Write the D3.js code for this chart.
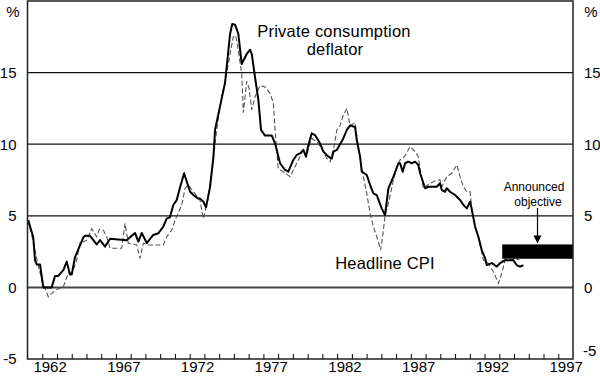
<!DOCTYPE html>
<html>
<head>
<meta charset="utf-8">
<script src="https://cdn.jsdelivr.net/npm/d3@7"></script>
<style>
body { margin: 0; background: #fff; }
svg { display: block; font-family: "Liberation Sans", Arial, sans-serif; }
.axis path, .axis line { stroke: none; }
.axis text { font-size: 15px; fill: #000; }
</style>
</head>
<body>
<div class="chart"></div>
<script>
// Private consumption deflator (solid), year-ended % change
var pcdYears = [1961.05,1961.39,1961.51,1961.62,1961.85,1962.07,1962.64,1962.87,1963.09,1963.43,1963.66,1963.88,1964.00,1964.22,1964.79,1964.90,1965.24,1965.69,1965.92,1966.26,1966.60,1967.73,1968.29,1968.52,1968.75,1969.09,1969.53,1969.87,1970.21,1970.44,1970.66,1970.89,1971.12,1971.35,1971.62,1972.02,1972.25,1972.59,1972.70,1972.93,1973.11,1973.38,1973.61,1973.72,1974.40,1974.74,1974.89,1975.08,1975.30,1975.53,1975.87,1976.10,1976.21,1976.43,1976.66,1976.84,1977.11,1977.57,1977.79,1978.13,1978.47,1978.69,1979.03,1979.26,1979.49,1979.71,1979.89,1980.05,1980.28,1980.50,1980.84,1981.07,1981.41,1981.64,1981.75,1981.98,1982.42,1982.66,1982.88,1983.22,1983.33,1983.56,1983.67,1984.01,1984.24,1984.46,1984.69,1985.03,1985.25,1985.48,1985.82,1986.16,1986.27,1986.45,1986.61,1986.83,1987.06,1987.29,1987.51,1987.63,1987.97,1988.19,1988.76,1988.98,1989.10,1989.32,1989.44,1989.66,1990.00,1990.34,1990.57,1990.80,1991.02,1991.14,1991.36,1991.58,1991.81,1992.04,1992.15,1992.49,1992.83,1993.06,1993.39,1993.96,1994.18,1994.41,1994.64];
var pcdValues = [4.7,3.5,1.9,1.6,1.6,0.0,0.0,0.8,0.8,1.2,1.8,0.9,0.9,2.1,3.5,3.6,3.6,3.0,3.3,2.85,3.4,3.3,3.8,3.2,3.8,3.1,3.66,3.78,4.24,4.8,4.9,5.75,6.1,7.0,7.97,6.7,6.45,6.2,6.2,5.98,5.6,7.0,9.1,11.0,14.3,17.7,18.4,18.35,17.7,15.6,16.3,16.6,16.3,14.7,13.1,11.0,10.6,10.6,10.06,8.67,8.2,8.08,8.9,9.25,9.36,9.6,9.13,9.94,10.76,10.64,10.06,9.48,9.13,9.0,9.48,9.6,10.4,11.0,11.3,11.2,10.3,9.13,8.08,7.85,7.15,6.57,6.45,5.5,5.06,6.92,7.73,8.67,8.67,8.08,8.67,8.78,8.67,8.78,8.55,7.97,6.92,7.03,7.03,7.27,6.8,6.68,6.92,6.68,6.45,6.1,5.75,5.52,5.98,5.4,4.24,3.54,2.61,2.03,1.56,1.7,1.45,1.7,1.9,1.9,1.56,1.45,1.56];

// Headline CPI (dashed), year-ended % change
var cpiYears = [1961.03,1961.37,1961.71,1961.98,1962.41,1962.87,1963.43,1963.77,1964.02,1964.34,1964.56,1965.02,1965.36,1965.69,1965.87,1966.14,1966.37,1966.60,1967.39,1967.61,1967.84,1968.41,1968.63,1968.86,1969.20,1970.21,1970.44,1970.78,1971.01,1971.46,1971.69,1971.91,1972.25,1972.70,1972.82,1972.93,1973.27,1973.50,1973.72,1973.92,1974.20,1974.40,1974.74,1974.96,1975.12,1975.30,1975.53,1975.64,1975.87,1976.03,1976.21,1976.43,1976.77,1977.11,1977.45,1977.68,1977.79,1978.01,1978.35,1978.81,1979.26,1979.71,1979.89,1980.28,1980.62,1980.96,1981.30,1981.53,1981.75,1981.98,1982.20,1982.41,1982.66,1982.88,1983.22,1983.33,1983.56,1984.01,1984.24,1984.46,1984.69,1984.96,1985.14,1985.25,1985.48,1985.82,1986.05,1986.27,1986.61,1986.95,1987.29,1987.51,1987.63,1987.85,1988.31,1988.76,1988.98,1989.10,1989.44,1989.78,1990.12,1990.34,1990.57,1990.80,1991.02,1991.14,1991.36,1991.58,1991.92,1992.24,1992.60,1992.94,1993.17,1993.39,1993.73,1994.07,1994.41];
var cpiValues = [4.7,3.3,1.6,0.5,-0.65,-0.2,0.05,1.0,1.0,1.9,3.1,3.3,4.1,3.54,4.05,4.0,3.54,2.73,2.73,4.48,3.08,2.96,2.03,3.08,2.96,2.96,3.54,4.0,4.7,5.75,6.92,7.15,6.68,6.1,5.4,4.8,6.3,8.2,10.0,11.7,13.5,14.3,16.3,17.5,17.6,16.5,14.95,12.2,14.4,13.9,12.4,13.3,14.1,14.0,13.55,12.86,11.0,8.3,8.08,7.73,8.67,9.6,9.13,10.4,10.17,9.7,9.0,8.78,9.6,11.0,11.3,12.0,12.5,11.3,11.5,10.64,8.9,6.57,5.17,4.24,3.54,2.6,4.0,5.0,5.87,7.5,8.43,8.9,9.2,9.83,9.48,9.13,8.3,6.92,7.27,7.5,7.5,7.03,7.73,7.97,8.55,7.73,7.03,6.68,6.68,5.4,4.24,3.54,1.9,1.7,1.1,0.29,0.98,1.9,2.0,1.9,2.0];

// announced objective band
var targetYears = [1993.2, 1998];
var targetRange = [2, 3];

var yTicks = [-5, 0, 5, 10, 15];
var gridTicks = [0, 5, 10, 15];
var yearLabels = [1962, 1967, 1972, 1977, 1982, 1987, 1992, 1997];
var yearTicks = d3.range(1962, 1998);

var width = 600, height = 376;
var plotLeft = 27.5, plotRight = 573, plotTop = 1, plotBottom = 359;

var x = d3.scaleLinear().domain([1961, 1998]).range([plotLeft, plotRight]);
var y = d3.scaleLinear().domain([-5, 20]).range([plotBottom, plotTop]);

// plain hyphen for negatives, like the original
var fmt = function(d){ return String(d); };

var svg = d3.select(".chart").append("svg")
    .attr("width", width).attr("height", height);

// horizontal grid
svg.append("g").selectAll("line")
    .data(gridTicks)
    .enter().append("line")
    .attr("x1", plotLeft).attr("x2", plotRight)
    .attr("y1", function(d){ return y(d); })
    .attr("y2", function(d){ return y(d); })
    .attr("stroke", function(d){ return d === 0 ? "#444" : "#111"; })
    .attr("stroke-width", function(d){ return d === 0 ? 2 : 1.2; });

// target band
svg.append("rect")
    .attr("x", x(targetYears[0]))
    .attr("y", y(targetRange[1]))
    .attr("width", x(targetYears[1]) - x(targetYears[0]))
    .attr("height", y(targetRange[0]) - y(targetRange[1]))
    .attr("fill", "#000");

function line(xs, vs){
    return d3.line()
        .x(function(d, i){ return x(xs[i]); })
        .y(function(d){ return y(d); })(vs);
}

svg.append("path")
    .attr("d", line(cpiYears, cpiValues))
    .attr("fill", "none")
    .attr("stroke", "#555")
    .attr("stroke-width", 1.1)
    .attr("stroke-dasharray", "5,2.5");

svg.append("path")
    .attr("d", line(pcdYears, pcdValues))
    .attr("fill", "none")
    .attr("stroke", "#000")
    .attr("stroke-width", 2)
    .attr("stroke-linejoin", "round");

// frame
svg.append("rect")
    .attr("x", plotLeft).attr("y", plotTop)
    .attr("width", plotRight - plotLeft).attr("height", plotBottom - plotTop)
    .attr("fill", "none")
    .attr("stroke", "#222")
    .attr("stroke-width", 1.5);

// year ticks (inside, pointing up)
var tickAxis = d3.axisBottom(x).tickValues(yearTicks).tickSize(-5).tickFormat("");
svg.append("g")
    .attr("transform", "translate(0," + plotBottom + ")")
    .call(tickAxis)
    .call(function(g){ g.select(".domain").remove(); })
    .selectAll("line").attr("stroke", "#000").attr("stroke-width", 1);

// year labels centred in the year
var labelAxis = d3.axisBottom(x)
    .tickValues(yearLabels.map(function(d){ return d + 0.5; }))
    .tickSize(0).tickPadding(2)
    .tickFormat(function(d){ return Math.floor(d); });
svg.append("g")
    .attr("class", "axis")
    .attr("transform", "translate(0," + plotBottom + ")")
    .call(labelAxis);

// y labels
var yLeft = d3.axisLeft(y).tickValues(yTicks).tickSize(0).tickPadding(11).tickFormat(fmt);
svg.append("g")
    .attr("class", "axis")
    .attr("transform", "translate(" + plotLeft + ",0)")
    .call(yLeft);

var yRight = d3.axisRight(y).tickValues(yTicks).tickSize(0).tickPadding(11).tickFormat(fmt);
var gr = svg.append("g")
    .attr("class", "axis")
    .attr("transform", "translate(" + plotRight + ",0)")
    .call(yRight);
gr.selectAll(".tick").filter(function(d){ return d === -5; })
    .select("text").attr("dy", "-0.25em").attr("x", 10);

svg.selectAll(".axis text").style("font-size", "15px").style("fill", "#000");

svg.append("text").attr("x", 13).attr("y", 17).attr("text-anchor", "middle")
    .attr("font-size", 15).text("%");
svg.append("text").attr("x", 591).attr("y", 17).attr("text-anchor", "middle")
    .attr("font-size", 15).text("%");

// series labels
svg.append("text").attr("x", 334).attr("y", 37).attr("text-anchor", "middle")
    .attr("font-size", 16.5).attr("letter-spacing", 0.2).text("Private consumption");
svg.append("text").attr("x", 335).attr("y", 55).attr("text-anchor", "middle")
    .attr("font-size", 16.5).attr("letter-spacing", 0.2).text("deflator");
svg.append("text").attr("x", 385).attr("y", 269).attr("text-anchor", "middle")
    .attr("font-size", 16.5).attr("letter-spacing", 0.2).text("Headline CPI");

svg.append("text").attr("x", 534).attr("y", 191).attr("text-anchor", "middle")
    .attr("font-size", 12).text("Announced");
svg.append("text").attr("x", 538).attr("y", 206).attr("text-anchor", "middle")
    .attr("font-size", 12).text("objective");

// arrow to the band
var ax = 537.5, ay0 = 208, ay1 = y(targetRange[1]) - 1;
svg.append("line").attr("x1", ax).attr("x2", ax).attr("y1", ay0).attr("y2", ay1 - 7)
    .attr("stroke", "#000").attr("stroke-width", 1.2);
svg.append("path")
    .attr("d", "M" + (ax - 4) + "," + (ay1 - 8) + "L" + (ax + 4) + "," + (ay1 - 8) + "L" + ax + "," + ay1 + "Z")
    .attr("fill", "#000");
</script>
</body>
</html>
